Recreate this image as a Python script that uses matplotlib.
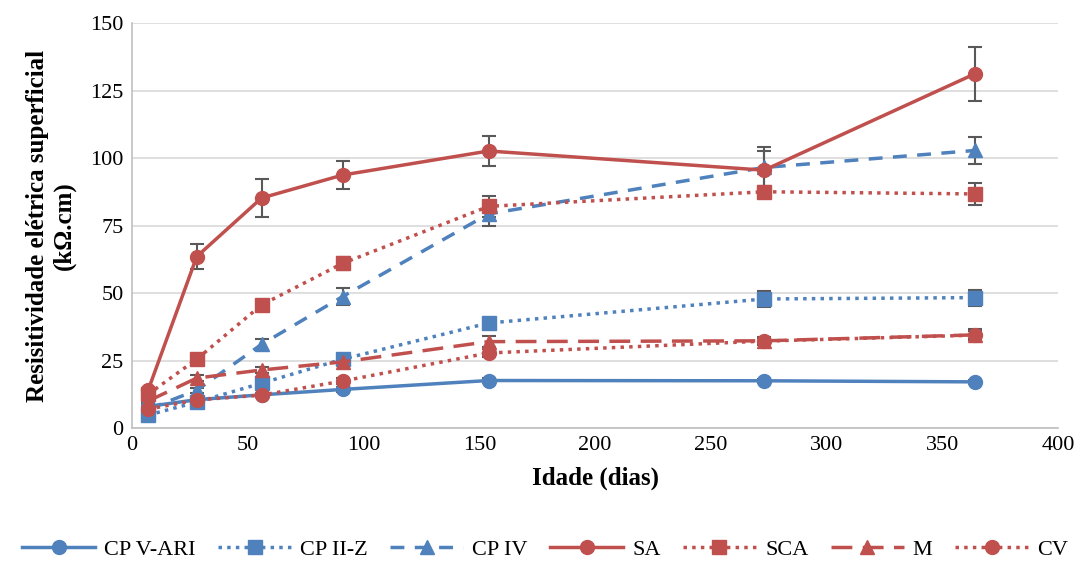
import numpy as np
import matplotlib.pyplot as plt
from matplotlib.lines import Line2D

plt.rcParams['font.family'] = ['Liberation Serif', 'DejaVu Serif']

idade = [7, 28, 56, 91, 154, 273, 364]

cpv_ari = [8.0, 10.5, 12.3, 14.3, 17.6, 17.5, 17.1]
cpv_ari_err = [0.5, 0.6, 0.8, 0.8, 1.0, 0.8, 0.8]
cpii_z = [4.8, 9.6, 16.6, 25.5, 38.9, 47.8, 48.3]
cpii_z_err = [0.5, 0.8, 1.0, 1.2, 1.5, 3.0, 3.0]
cpiv = [7.0, 14.0, 31.0, 48.7, 79.3, 96.5, 102.8]
cpiv_err = [0.5, 1.0, 2.0, 3.0, 4.5, 7.5, 5.0]
sa = [14.0, 63.5, 85.2, 93.7, 102.6, 95.5, 131.2]
sa_err = [1.0, 4.5, 7.0, 5.2, 5.6, 7.0, 10.0]
sca = [12.5, 25.5, 45.6, 61.0, 82.1, 87.5, 86.7]
sca_err = [0.8, 1.0, 1.2, 2.3, 4.0, 2.0, 4.0]
m = [10.0, 18.5, 21.5, 24.5, 32.0, 32.3, 34.5]
m_err = [0.6, 1.0, 1.0, 1.0, 2.0, 1.5, 2.0]
cv = [7.0, 10.4, 12.2, 17.4, 27.8, 32.2, 34.4]
cv_err = [0.5, 0.6, 0.8, 1.0, 1.5, 1.2, 1.5]

azul = '#4F81BD'
verm = '#C0504D'

series = [
    ('CP V-ARI', cpv_ari, cpv_ari_err, azul, '-', 'o'),
    ('CP II-Z', cpii_z, cpii_z_err, azul, (0, (1, 1.5)), 's'),
    ('CP IV', cpiv, cpiv_err, azul, (0, (4, 3)), '^'),
    ('SA', sa, sa_err, verm, '-', 'o'),
    ('SCA', sca, sca_err, verm, (0, (1, 1.5)), 's'),
    ('M', m, m_err, verm, (0, (6, 3)), '^'),
    ('CV', cv, cv_err, verm, (0, (1, 1.5)), 'o'),
]

fig, ax = plt.subplots(figsize=(10.9, 5.61), dpi=100)
fig.subplots_adjust(left=0.121, right=0.971, top=0.959, bottom=0.237)

handles = []
for nome, vals, err, cor, ls, mk in series:
    ax.errorbar(idade, vals, yerr=err, color=cor, linestyle=ls, linewidth=2.5,
                marker=mk, markersize=10, ecolor='#595959', elinewidth=1.5,
                capsize=5, capthick=1.5, zorder=3)
    handles.append(Line2D([], [], color=cor, linestyle=ls, linewidth=2.5,
                          marker=mk, markersize=10, label=nome))

ax.set_xlim(0, 400)
ax.set_ylim(0, 150)
ax.set_xticks(np.arange(0, 401, 50))
ax.set_yticks(np.arange(0, 151, 25))
ax.tick_params(labelsize=16, length=0, pad=6)
ax.grid(axis='y', color='#D9D9D9', linewidth=1.2, zorder=0)
ax.set_axisbelow(True)
for s in ['top', 'right']:
    ax.spines[s].set_visible(False)
for s in ['left', 'bottom']:
    ax.spines[s].set_color('#BFBFBF')
    ax.spines[s].set_linewidth(1.2)

ax.set_xlabel('Idade (dias)', fontsize=18, fontweight='bold', labelpad=8)
ax.set_ylabel('Resisitividade elétrica superficial\n(kΩ.cm)', fontsize=18,
              fontweight='bold', labelpad=10)

fig.legend(handles=handles, loc='lower center', ncol=7, frameon=False,
           fontsize=16, bbox_to_anchor=(0.5, -0.033), handlelength=3.3,
           columnspacing=1.0, handletextpad=0.4)

fig.savefig('out.png', dpi=100)
